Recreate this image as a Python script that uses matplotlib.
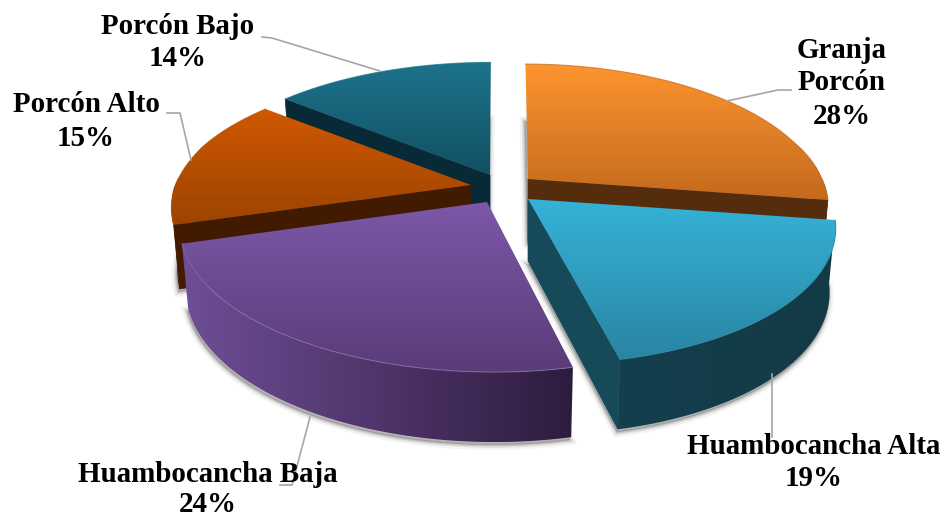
import numpy as np
import matplotlib
matplotlib.use("Agg")
import matplotlib.pyplot as plt
from matplotlib.patches import Polygon
from matplotlib.colors import LinearSegmentedColormap

# --- data ---
categories = ["Granja Porcón", "Huambocancha Alta", "Huambocancha Baja", "Porcón Alto", "Porcón Bajo"]
values = [28, 19, 24, 15, 14]

# --- layout / style ---
W, H = 947, 517
RX, RY, PERSP, TILT = 303.0, 135.5, 0.179, 5.5
apexes = [(528, 179), (528, 199), (487, 202), (471, 185), (490, 175)]
x_scales = [0.965, 0.985, 1.005, 0.98, 0.98]
y_scales = [1.0, 1.0, 1.03, 0.98, 0.98]
leans_front = [14.0, 20.0, 14.0, 14.0, 14.0]
leans_back = [3.0, 0.0, 0.0, 0.0, -1.0]
top_cols = [("#fd9530", "#c4691c"), ("#35b3d8", "#2a85a3"), ("#7c58a8", "#5a3c78"),
            ("#d05800", "#9c4400"), ("#1c738c", "#125062")]
cut_cols = ["#552c0c", "#174a59", "#3a2650", "#421a00", "#082a36"]
outer_cols = [("#552c0c", "#552c0c"), ("#143f4c", "#133a47"), ("#6e4e96", "#2e1c3e"),
              ("#421a00", "#421a00"), ("#082a36", "#082a36")]
edge_cols = ["#c4691c", "#2c8cab", "#8a6fb0", "#b04c00", "#1c738c"]
visible_wall = [-1, -1, None, 0, 0]   # which cut face of each slice shows
draw_order = [4, 3, 0, 2, 1]
label_pos = [(842, 50), (814, 446), (208, 474), (86, 105), (178, 26)]
line_steps = [33, 33, 31, 33, 33]
leaders = [[(791, 90), (778, 90), (727, 101)],
           [(772, 374), (772, 437)],
           [(310, 417), (292, 485), (280, 485)],
           [(167, 113), (180, 113), (191, 160)],
           [(262, 37), (272, 38), (380, 71)]]
label_lines = [["Granja", "Porcón", "28%"], ["Huambocancha Alta", "19%"],
               ["Huambocancha Baja", "24%"], ["Porcón Alto", "15%"], ["Porcón Bajo", "14%"]]

fig = plt.figure(figsize=(W / 100, H / 100), dpi=100, facecolor="white")
ax = fig.add_axes([0, 0, 1, 1])
ax.set_xlim(0, W)
ax.set_ylim(H, 0)
ax.axis("off")


def project(theta, i, z=0.0):
    u, v = np.sin(theta), -np.cos(theta)
    s = 1.0 / (1.0 - PERSP * v)
    lean = leans_front[i] * np.maximum(v, 0) + leans_back[i] * np.minimum(v, 0)
    x = (RX * u * s * x_scales[i] + lean * s) * (1 - 0.02 * z)
    w = np.clip((v + 0.3) / 0.5, 0, 1)
    y = RY * v * s * y_scales[i] - TILT * u * w + z * (62 + 8 * v)
    return apexes[i][0] + x, apexes[i][1] + y


def gradient_poly(pts, c0, c1, zorder, horizontal=False):
    pts = np.asarray(pts)
    cmap = LinearSegmentedColormap.from_list("g", [c0, c1])
    x0, x1 = pts[:, 0].min(), pts[:, 0].max()
    y0, y1 = pts[:, 1].min(), pts[:, 1].max()
    g = np.linspace(0, 1, 256)
    img = g[None, :] if horizontal else g[:, None]
    im = ax.imshow(img, cmap=cmap, extent=(x0, x1, y1, y0), aspect="auto",
                   zorder=zorder, interpolation="bilinear", vmin=0, vmax=1)
    patch = Polygon(pts, closed=True, transform=ax.transData, fc="none", ec="none")
    ax.add_patch(patch)
    im.set_clip_path(patch)


fractions = np.array(values, dtype=float) / np.sum(values)
bounds = np.concatenate([[0], np.cumsum(fractions)]) * 2 * np.pi

z = 2
for i in draw_order:
    t = np.linspace(bounds[i], bounds[i + 1], 160)
    tx, ty = project(t, i)
    bx, by = project(t, i, 1.0)
    abx, aby = apexes[i][0], apexes[i][1] + 62

    # soft shadow from the base of the slice
    base = np.column_stack([np.r_[abx, bx], np.r_[aby, by]])
    for lw, a in [(7, 0.06), (4, 0.1), (2, 0.18)]:
        ax.add_patch(Polygon(base + [-1, 3], closed=True, fc=(0.3, 0.3, 0.3, a),
                             ec=(0.3, 0.3, 0.3, a), lw=lw, zorder=z))
    z += 1

    # outer wall: only the part that faces the viewer
    mask = -np.cos(t) > -0.08
    if mask.sum() > 1:
        outer = np.column_stack([np.r_[tx[mask], bx[mask][::-1]], np.r_[ty[mask], by[mask][::-1]]])
        c0, c1 = outer_cols[i]
        gradient_poly(outer, c0, c1, z, horizontal=True)
    z += 1

    # cut wall
    j = visible_wall[i]
    if j is not None:
        wall = [apexes[i], (tx[j], ty[j]), (bx[j], by[j]), (abx, aby)]
        ax.add_patch(Polygon(wall, closed=True, fc=cut_cols[i], ec=cut_cols[i], lw=0.5, zorder=z))
    z += 1

    # top face
    top = np.column_stack([np.r_[apexes[i][0], tx], np.r_[apexes[i][1], ty]])
    c0, c1 = top_cols[i]
    gradient_poly(top, c0, c1, z)
    z += 1
    ax.plot(tx, ty, color=edge_cols[i], lw=0.8, alpha=0.7, zorder=z, solid_capstyle="round")
    z += 1

for pts in leaders:
    pts = np.array(pts)
    ax.plot(pts[:, 0], pts[:, 1], color="#a6a6a6", lw=1.2, zorder=z)
z += 1

for (cx, cy), lines, step in zip(label_pos, label_lines, line_steps):
    for k, line in enumerate(lines):
        ax.text(cx, cy + step * k, line, ha="center", va="center", color="black",
                family="Liberation Serif", weight="bold", fontsize=20.9, zorder=z)

ax.set_xlim(0, W)
ax.set_ylim(H, 0)
fig.savefig("out.png", dpi=100, facecolor="white")
